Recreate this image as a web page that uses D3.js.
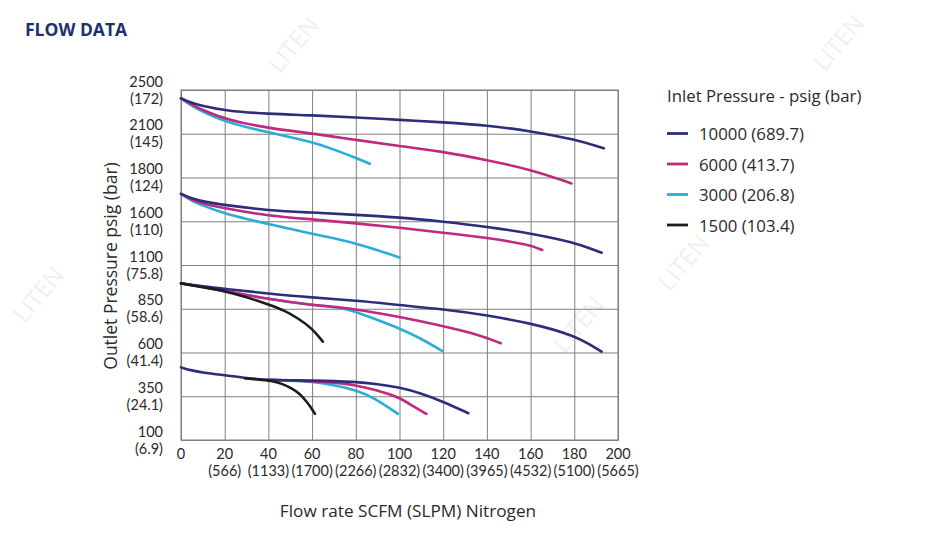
<!DOCTYPE html>
<html>
<head>
<meta charset="utf-8">
<script src="https://cdn.jsdelivr.net/npm/d3@7"></script>
<style>
  html, body { margin: 0; padding: 0; background: #fff; }
  svg { display: block; }
  text { font-family: "Open Sans", "Noto Sans", sans-serif; }
  .tick-label { font-family: Lato, "Open Sans", sans-serif; }
</style>
</head>
<body>
<svg id="chart" width="928" height="546"></svg>
<script>
// ---------- DATA ----------
const flowTicks = [0, 20, 40, 60, 80, 100, 120, 140, 160, 180, 200];
const flowTickSlpm = ["", "(566)", "(1133)", "(1700)", "(2266)", "(2832)", "(3400)", "(3965)", "(4532)", "(5100)", "(5665)"];
const outletTicksPsig = [100, 350, 600, 850, 1100, 1600, 1800, 2100, 2500];
const outletTicksBar = ["(6.9)", "(24.1)", "(41.4)", "(58.6)", "(75.8)", "(110)", "(124)", "(145)", "(172)"];

const seriesNames = ["10000 (689.7)", "6000 (413.7)", "3000 (206.8)", "1500 (103.4)"];
const seriesColors = ["#2c2e7c", "#c1287f", "#2badd6", "#1c1c1c"];

// each curve: [flow SCFM, outlet psig]
const inlet10000 = [
  [[0,2424],[5,2381],[10,2354],[20,2311],[40,2281],[60,2269],[80,2250],[100,2226],[120,2205],[140,2178],[160,2124],[180,2063],[193.5,2000]],
  [[0,1725],[5,1704],[10,1690],[20,1674],[40,1649],[60,1640],[80,1629],[100,1618],[120,1595],[140,1538],[160,1462],[180,1359],[192.5,1241]],
  [[0,995],[10,977],[20,963],[40,937],[60,914],[80,897],[100,871],[120,847],[140,813],[160,767],[180,700],[192.5,605]],
  [[0,515],[5,497],[10,484],[20,471],[30,453],[40,443],[60,440],[80,433],[90,420],[100,401],[110,367],[120,319],[131.5,253]]
];
const inlet6000 = [
  [[0,2424],[5,2363],[10,2317],[20,2232],[40,2150],[60,2104],[80,2057],[100,2016],[120,1977],[140,1920],[160,1855],[178.7,1773]],
  [[0,1725],[5,1697],[10,1681],[20,1659],[40,1624],[60,1609],[80,1577],[100,1526],[120,1469],[140,1412],[160,1329],[165.3,1271]],
  [[0,995],[10,974],[20,953],[40,904],[60,871],[72.8,858],[80,847],[100,805],[120,751],[137,700],[146.3,653]],
  [[40,443],[60,437],[69.6,429],[80,414],[89,386],[100,344],[106,294],[112.3,249]]
];
const inlet3000 = [
  [[0,2424],[5,2354],[10,2299],[20,2210],[40,2110],[60,2045],[70.5,1989],[80,1935],[86.4,1894]],
  [[0,1725],[5,1693],[10,1672],[20,1633],[40,1569],[60,1454],[70.5,1405],[80,1348],[100,1187]],
  [[0,995],[10,974],[20,953],[40,904],[60,871],[72.8,858],[80,833],[89,790],[100,738],[109.7,681],[119.5,609]],
  [[40,443],[50,440],[60,434],[69.6,414],[80,386],[89,338],[99.3,249]]
];
const inlet1500 = [
  [[0,995],[10,974],[20,951],[30,917],[40,875],[47.6,839],[53.6,795],[60,738],[64.9,662]],
  [[29.3,452],[35,446],[41.5,438],[46.1,423],[50.7,395],[54.5,363],[57.5,319],[59.8,281],[61.3,249]]
];
const seriesCurves = [inlet10000, inlet6000, inlet3000, inlet1500];

// ---------- LAYOUT ----------
const svg = d3.select("#chart");
const plot = { left: 181, right: 618, top: 90, bottom: 440 };

const x = d3.scaleLinear().domain([0, 200]).range([plot.left, plot.right]);
const yRange = outletTicksPsig.map((d, i) => plot.bottom - i * (plot.bottom - plot.top) / (outletTicksPsig.length - 1));
const y = d3.scaleLinear().domain(outletTicksPsig).range(yRange);

const gridColor = "#7f7f7f";
const textColor = "#2a2a2a";

// Watermarks (faint)
const wm = [[300,50],[845,48],[45,300],[585,330],[690,268]];
svg.append("g").selectAll("text").data(wm).join("text")
  .attr("transform", d => `translate(${d[0]},${d[1]}) rotate(-50)`)
  .attr("text-anchor", "middle")
  .attr("font-size", 24)
  .attr("fill", "#f0f0f0")
  .text("LITEN");

// Title
svg.append("text")
  .attr("x", 25).attr("y", 36)
  .attr("font-size", 17.5).attr("font-weight", 700)
  .attr("fill", "#1c2f6e")
  .text("FLOW DATA");

// Grid - vertical
const gx = svg.append("g")
  .attr("transform", `translate(0,${plot.bottom})`)
  .call(d3.axisBottom(x).tickValues(flowTicks).tickSize(-(plot.bottom - plot.top)).tickFormat(""));
gx.select(".domain").attr("stroke", gridColor);
gx.selectAll(".tick line").attr("stroke", gridColor).attr("stroke-width", 1);

// Grid - horizontal
const gy = svg.append("g")
  .attr("transform", `translate(${plot.left},0)`)
  .call(d3.axisLeft(y).tickValues(outletTicksPsig).tickSize(-(plot.right - plot.left)).tickFormat(""));
gy.select(".domain").attr("stroke", gridColor);
gy.selectAll(".tick line").attr("stroke", gridColor).attr("stroke-width", 1);

// Border (top & right)
svg.append("rect")
  .attr("x", plot.left).attr("y", plot.top)
  .attr("width", plot.right - plot.left).attr("height", plot.bottom - plot.top)
  .attr("fill", "none").attr("stroke", gridColor).attr("stroke-width", 1);

// Y tick labels (two lines)
const yl = svg.append("g").attr("class", "tick-label").attr("font-size", 14.5).attr("fill", textColor).attr("text-anchor", "end");
outletTicksPsig.forEach((v, i) => {
  yl.append("text").attr("class", "tick-label").attr("x", 163).attr("y", y(v) - 3.5).text(v);
  yl.append("text").attr("class", "tick-label").attr("x", 163).attr("y", y(v) + 13.5).text(outletTicksBar[i]);
});

// X tick labels
const xl = svg.append("g").attr("font-size", 14.5).attr("fill", textColor).attr("text-anchor", "middle");
flowTicks.forEach((v, i) => {
  xl.append("text").attr("class", "tick-label").attr("x", x(v)).attr("y", 458.5).text(v);
  if (flowTickSlpm[i]) xl.append("text").attr("class", "tick-label").attr("x", x(v)).attr("y", 476).text(flowTickSlpm[i]);
});

// Axis titles
svg.append("text")
  .attr("transform", `translate(117,266) rotate(-90)`)
  .attr("text-anchor", "middle").attr("font-size", 17.5).attr("fill", textColor)
  .text("Outlet Pressure psig (bar)");
svg.append("text")
  .attr("x", 408).attr("y", 517)
  .attr("text-anchor", "middle").attr("font-size", 17.2).attr("fill", textColor)
  .text("Flow rate SCFM (SLPM) Nitrogen");

// Curves
const line = d3.line().x(d => x(d[0])).y(d => y(d[1])).curve(d3.curveBasis);
const drawOrder = [2, 1, 0, 3];
const cg = svg.append("g").attr("fill", "none").attr("stroke-linecap", "round").attr("stroke-width", 2.6);
drawOrder.forEach(si => {
  cg.append("g").selectAll("path").data(seriesCurves[si]).join("path")
    .attr("d", line)
    .attr("stroke", seriesColors[si]);
});

// Legend
const lg = svg.append("g").attr("fill", textColor);
lg.append("text").attr("x", 667).attr("y", 102).attr("font-size", 16.8).text("Inlet Pressure - psig (bar)");
seriesNames.forEach((name, i) => {
  const ly = 133.5 + i * 30.5;
  lg.append("line").attr("x1", 667).attr("x2", 688).attr("y1", ly).attr("y2", ly)
    .attr("stroke", seriesColors[i]).attr("stroke-width", 2.8);
  lg.append("text").attr("x", 699).attr("y", ly + 6.5).attr("font-size", 16.8).text(name);
});
</script>
</body>
</html>
